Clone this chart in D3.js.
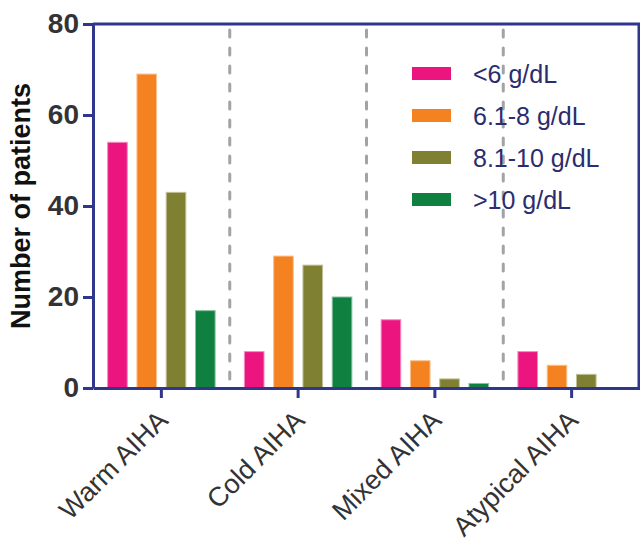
<!DOCTYPE html>
<html>
<head>
<meta charset="utf-8">
<script src="https://cdn.jsdelivr.net/npm/d3@7"></script>
<style>
  body { margin: 0; background: #fff; }
  text { font-family: "Liberation Sans", Arial, sans-serif; }
</style>
</head>
<body>
<svg id="chart" width="640" height="540"></svg>
<script>
/*** DATA ***/
var categories = ["Warm AIHA", "Cold AIHA", "Mixed AIHA", "Atypical AIHA"];
var groups = ["<6 g/dL", "6.1-8 g/dL", "8.1-10 g/dL", ">10 g/dL"];
var colors = ["#ec1580", "#f58220", "#808033", "#0f8040"];
var under6 = [54, 8, 15, 8];
var from6to8 = [69, 29, 6, 5];
var from8to10 = [43, 27, 2, 3];
var over10 = [17, 20, 1, 0];
var yTicks = [0, 20, 40, 60, 80];

var series = [under6, from6to8, from8to10, over10];

/*** CHART ***/
var plotLeft = 93, plotRight = 639, plotTop = 24, plotBottom = 388,
    axisColor = "#30378a",
    textColor = "#333333";

var svg = d3.select("#chart");

var x0 = d3.scaleBand()
  .domain(categories)
  .range([plotLeft, 640])
  .padding(0);

var x1 = d3.scaleBand()
  .domain(groups)
  .range([0, x0.bandwidth()])
  .paddingInner(0.33)
  .paddingOuter(0.5);

var y = d3.scaleLinear()
  .domain([0, 80])
  .range([plotBottom, plotTop]);

// Dashed separators between categories
svg.append("g")
  .selectAll("line").data(categories.slice(1)).enter()
    .append("line")
    .attr("x1", d => x0(d))
    .attr("x2", d => x0(d))
    .attr("y1", plotTop + 6)
    .attr("y2", plotBottom - 3)
    .attr("stroke", "#a3a3a7")
    .attr("stroke-width", 3)
    .attr("stroke-linecap", "round")
    .attr("stroke-dasharray", "7,11");

// Bars
var bars = [];
categories.forEach((c, ci) => {
  groups.forEach((g, gi) => {
    bars.push({cat: c, group: g, value: series[gi][ci], color: colors[gi]});
  });
});

svg.append("g")
  .selectAll("rect").data(bars.filter(d => d.value > 0)).enter()
    .append("rect")
    .attr("x", d => x0(d.cat) + x1(d.group))
    .attr("width", x1.bandwidth())
    .attr("y", d => y(d.value))
    .attr("height", d => y(0) - y(d.value))
    .attr("fill", d => d.color)
    .attr("stroke", d => d3.interpolateRgb(d.color, "#fff")(0.5))
    .attr("stroke-width", 1);

// Y axis
var yAxis = svg.append("g")
  .attr("transform", "translate(" + plotLeft + ",0)")
  .call(d3.axisLeft(y).tickValues(yTicks).tickSize(10).tickPadding(4).tickSizeOuter(0));
yAxis.select(".domain").attr("stroke", axisColor).attr("stroke-width", 3);
yAxis.selectAll(".tick line").attr("stroke", axisColor).attr("stroke-width", 3);
yAxis.selectAll(".tick text")
  .attr("fill", textColor)
  .attr("font-size", "28px")
  .attr("font-weight", "bold")
  .attr("font-family", "'Liberation Sans', Arial, sans-serif");

// X axis
var xAxis = svg.append("g")
  .attr("transform", "translate(0," + plotBottom + ")")
  .call(d3.axisBottom(x0).tickSize(10).tickSizeOuter(0).tickFormat(""));
xAxis.select(".domain").attr("stroke", axisColor).attr("stroke-width", 3);
xAxis.selectAll(".tick line").attr("stroke", axisColor).attr("stroke-width", 3);

// Top and right frame
svg.append("line")
  .attr("x1", plotLeft).attr("x2", 640)
  .attr("y1", plotTop).attr("y2", plotTop)
  .attr("stroke", axisColor).attr("stroke-width", 3);
svg.append("line")
  .attr("x1", plotRight).attr("x2", plotRight)
  .attr("y1", plotTop).attr("y2", plotBottom)
  .attr("stroke", axisColor).attr("stroke-width", 3);

// Category labels
svg.append("g")
  .selectAll("text").data(categories).enter()
    .append("text")
    .attr("transform", d => "translate(" + (x0(d) + x0.bandwidth() / 2 + 8) + ",422) rotate(-45)")
    .attr("text-anchor", "end")
    .attr("font-size", "27px")
    .attr("fill", textColor)
    .text(d => d);

// Y title
svg.append("text")
  .attr("transform", "translate(30,206) rotate(-90)")
  .attr("text-anchor", "middle")
  .attr("font-size", "27px")
  .attr("font-weight", "bold")
  .attr("fill", "#111")
  .text("Number of patients");

// Legend
var legend = svg.append("g")
  .selectAll("g").data(groups).enter()
    .append("g")
    .attr("transform", (d, i) => "translate(412," + (74 + i * 42) + ")");
legend.append("rect")
  .attr("x", 0).attr("y", -7)
  .attr("width", 39).attr("height", 13)
  .attr("fill", (d, i) => colors[i]);
legend.append("text")
  .attr("x", 61)
  .attr("y", 9)
  .attr("font-size", "25px")
  .attr("fill", "#2b2d6e")
  .text(d => d);
</script>
</body>
</html>
